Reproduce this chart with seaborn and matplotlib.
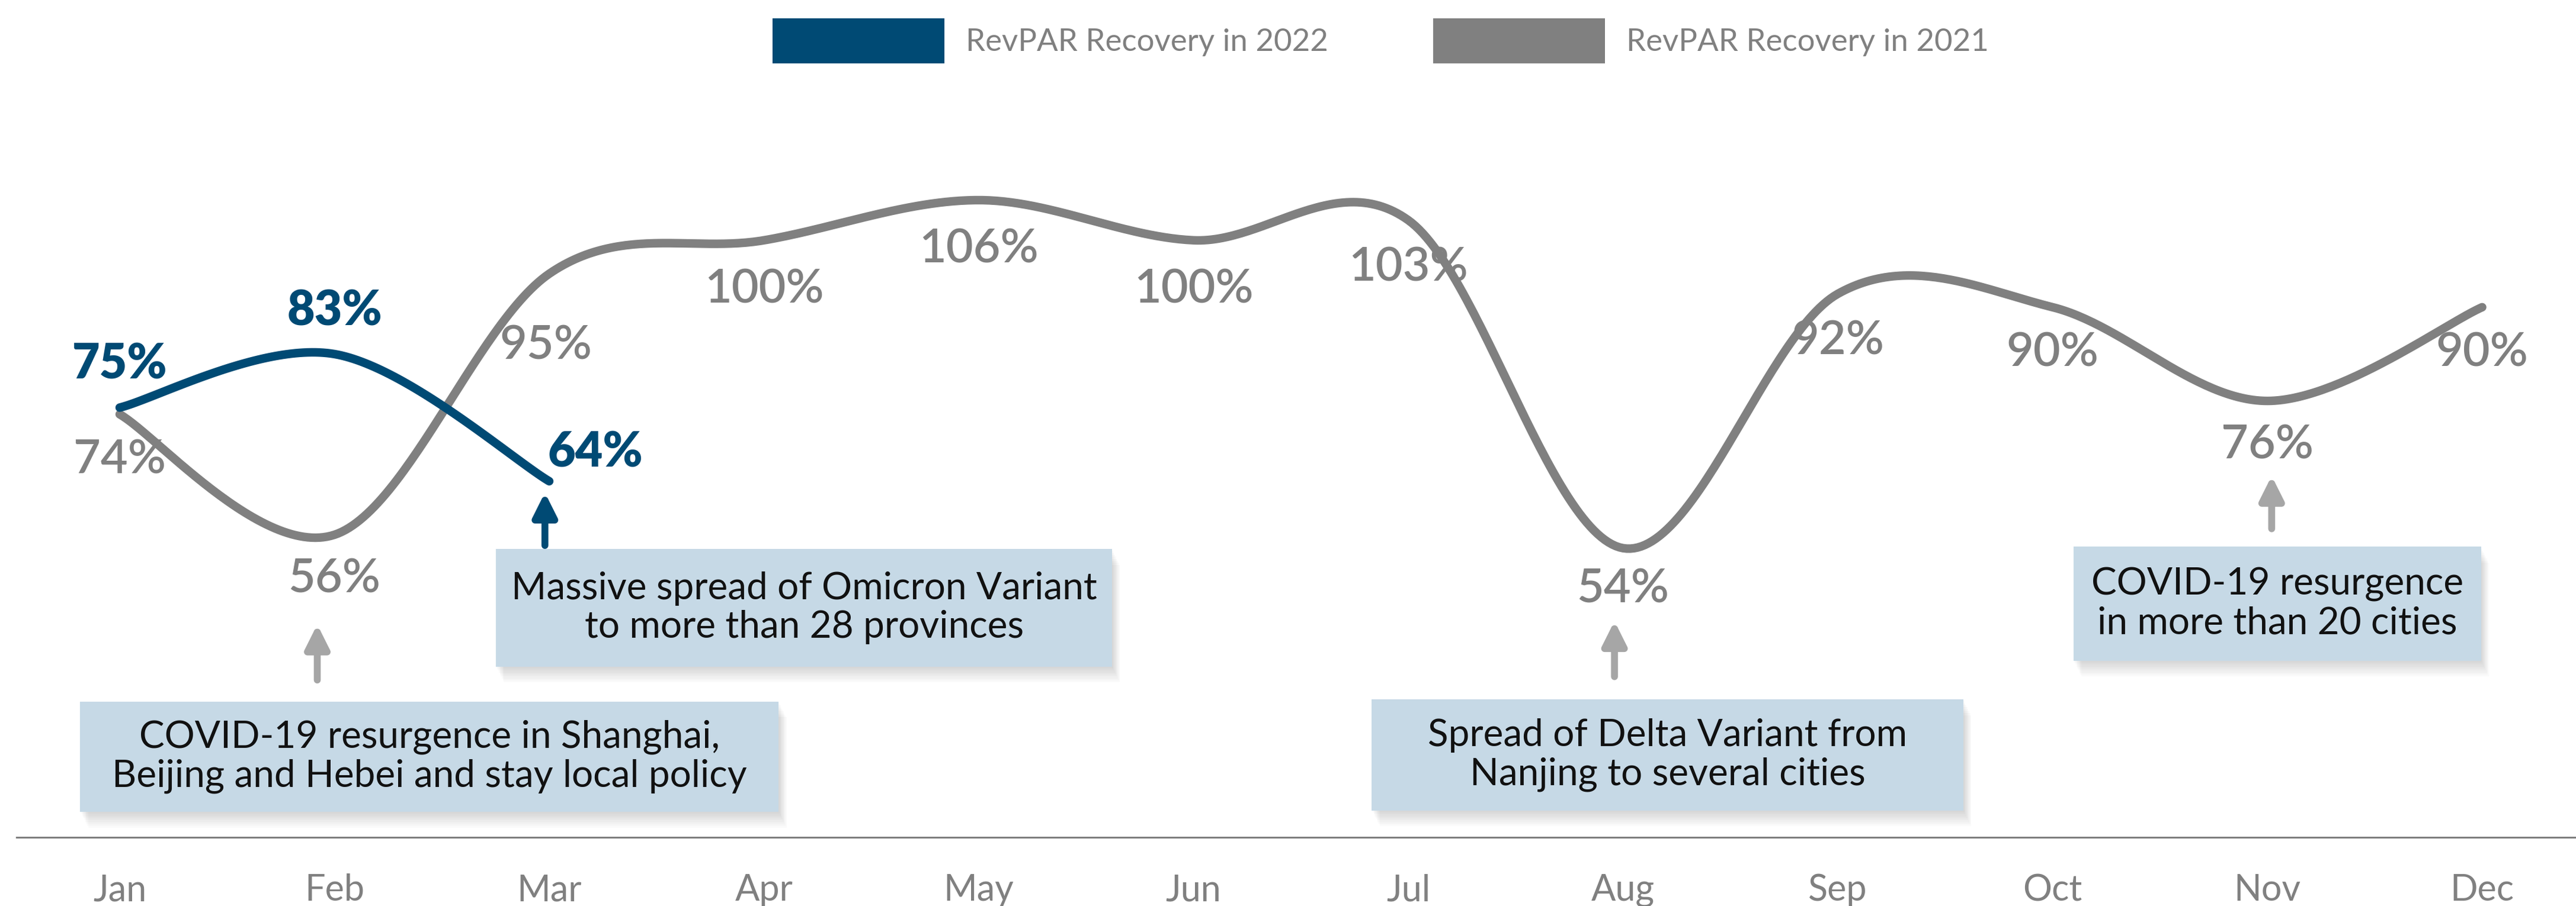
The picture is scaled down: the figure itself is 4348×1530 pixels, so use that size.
import numpy as np
import matplotlib
matplotlib.use("Agg")
import matplotlib.pyplot as plt
import matplotlib.transforms as mtransforms
import seaborn as sns
from matplotlib.patches import Rectangle, Patch, FancyArrowPatch

# ---- data ----
months = ["Jan", "Feb", "Mar", "Apr", "May", "Jun", "Jul", "Aug", "Sep", "Oct", "Nov", "Dec"]
recovery_2021 = [74, 56, 95, 100, 106, 100, 103, 54, 92, 90, 76, 90]
recovery_2022 = [75, 83, 64]
series_names = ["RevPAR Recovery in 2022", "RevPAR Recovery in 2021"]

event_texts = [
    "Massive spread of Omicron Variant\nto more than 28 provinces",
    "COVID-19 resurgence in Shanghai,\nBeijing and Hebei and stay local policy",
    "Spread of Delta Variant from\nNanjing to several cities",
    "COVID-19 resurgence\nin more than 20 cities",
]

# ---- styling ----
BLUE = "#004A74"
GRAY = "#808080"
ARROW_GRAY = "#A6A6A6"
BOX = "#C6D9E6"

# label offsets (points) for each value label
offs_2021 = [(0, -28), (0, -27), (-2, -44), (0, -30), (0, -30), (0, -30),
             (0, -29), (0, -25), (0, -29), (0, -28), (0, -27), (0, -28)]
offs_2022 = [(0, 26), (0, 26), (28, 17)]

# event boxes: (x0, x1, y0, y1) in data units
box_geom = [(1.752, 4.621, 36.3, 53.9),
            (-0.184, 3.068, 14.6, 31.1),
            (5.830, 8.585, 14.8, 31.4),
            (9.097, 10.995, 37.2, 54.2)]
# arrows: (x, y_tail, y_head, colour)
arrow_geom = [(1.98, 54.4, 62.3, BLUE),
              (0.92, 34.3, 42.6, ARROW_GRAY),
              (6.96, 34.8, 43.1, ARROW_GRAY),
              (10.02, 56.9, 64.8, ARROW_GRAY)]


def smooth_curve(values, steps=60):
    """Cubic Bezier smoothing through every point (Catmull-Rom style)."""
    y = np.asarray(values, dtype=float)
    x = np.arange(len(y), dtype=float)
    P = np.column_stack([x, y])
    P = np.vstack([P[0], P, P[-1]])
    t = np.linspace(0, 1, steps)[:, None]
    out = []
    for i in range(len(y) - 1):
        p0, p1, p2, p3 = P[i], P[i + 1], P[i + 2], P[i + 3]
        c1 = p1 + (p2 - p0) / 6.0
        c2 = p2 - (p3 - p1) / 6.0
        seg = ((1 - t) ** 3) * p1 + 3 * ((1 - t) ** 2) * t * c1 + 3 * (1 - t) * t ** 2 * c2 + t ** 3 * p2
        out.append(seg if i == 0 else seg[1:])
    out = np.vstack(out)
    return out[:, 0], out[:, 1]


sns.set_theme(style="white")
plt.rcParams["font.family"] = ["Lato", "DejaVu Sans"]

W, H, DPI = 4348, 1530, 200
fig = plt.figure(figsize=(W / DPI, H / DPI), dpi=DPI)
ax = fig.add_axes([28 / W, (H - 1414) / H, 1 - 28 / W, 1414 / H])
ax.set_xlim(-0.48, 11.437)
ax.set_ylim(10.8, 135.9)

# lines
x21, y21 = smooth_curve(recovery_2021)
x22, y22 = smooth_curve(recovery_2022)
sns.lineplot(x=x21, y=y21, sort=False, estimator=None, color=GRAY, lw=5.2,
             solid_capstyle="round", ax=ax, zorder=2)
sns.lineplot(x=x22, y=y22, sort=False, estimator=None, color=BLUE, lw=5.2,
             solid_capstyle="round", ax=ax, zorder=2.5)

# value labels
for i, v in enumerate(recovery_2021):
    ax.annotate(f"{v}%", (i, v), xytext=offs_2021[i], textcoords="offset points",
                ha="center", va="center", fontsize=28.5, color=GRAY, fontweight="semibold",
                zorder=4)
for i, v in enumerate(recovery_2022):
    ax.annotate(f"{v}%", (i, v), xytext=offs_2022[i], textcoords="offset points",
                ha="center", va="center", fontsize=29, color=BLUE, fontweight="heavy",
                zorder=4)

# event boxes with a soft drop shadow
for (x0, x1, y0, y1), txt in zip(box_geom, event_texts):
    for k in range(1, 9):
        sh = mtransforms.offset_copy(ax.transData, fig=fig, x=1.2 * k * 0.5, y=-1.2 * k, units="points")
        ax.add_patch(Rectangle((x0, y0), x1 - x0, y1 - y0, transform=sh,
                               facecolor="black", edgecolor="none", alpha=0.018, zorder=2.8))
    ax.add_patch(Rectangle((x0, y0), x1 - x0, y1 - y0, facecolor=BOX,
                           edgecolor="none", zorder=3))
    ax.text((x0 + x1) / 2, (y0 + y1) / 2, txt, ha="center", va="center",
            fontsize=23, color="#111111", linespacing=1.15, zorder=4)

# arrows
for x, yt, yh, c in arrow_geom:
    ax.add_patch(FancyArrowPatch((x, yt), (x, yh),
                                 arrowstyle="-|>,head_length=12,head_width=6",
                                 mutation_scale=1, lw=4.2, color=c,
                                 shrinkA=0, shrinkB=0, zorder=4))

# axes styling
ax.set_xticks(range(len(months)))
ax.set_xticklabels(months)
ax.set_yticks([])
ax.tick_params(axis="x", length=0, pad=22, labelsize=22, labelcolor=GRAY)
for lab in ax.get_xticklabels():
    lab.set_fontweight("normal")
for side in ["top", "right", "left"]:
    ax.spines[side].set_visible(False)
ax.spines["bottom"].set_color(GRAY)
ax.spines["bottom"].set_linewidth(1.1)
ax.set_xlabel("")
ax.set_ylabel("")
ax.patch.set_alpha(0)

# legend
handles = [Patch(facecolor=BLUE, edgecolor="none"), Patch(facecolor=GRAY, edgecolor="none")]
fig.legend(handles, series_names, loc="center", bbox_to_anchor=(0.536, 1 - 69 / H),
           ncol=2, frameon=False, labelcolor=GRAY,
           handlelength=5.5, handleheight=1.84, handletextpad=0.68, columnspacing=3.35,
           prop={"weight": "normal", "size": 19})

fig.savefig("out.png", dpi=DPI, facecolor="white")
